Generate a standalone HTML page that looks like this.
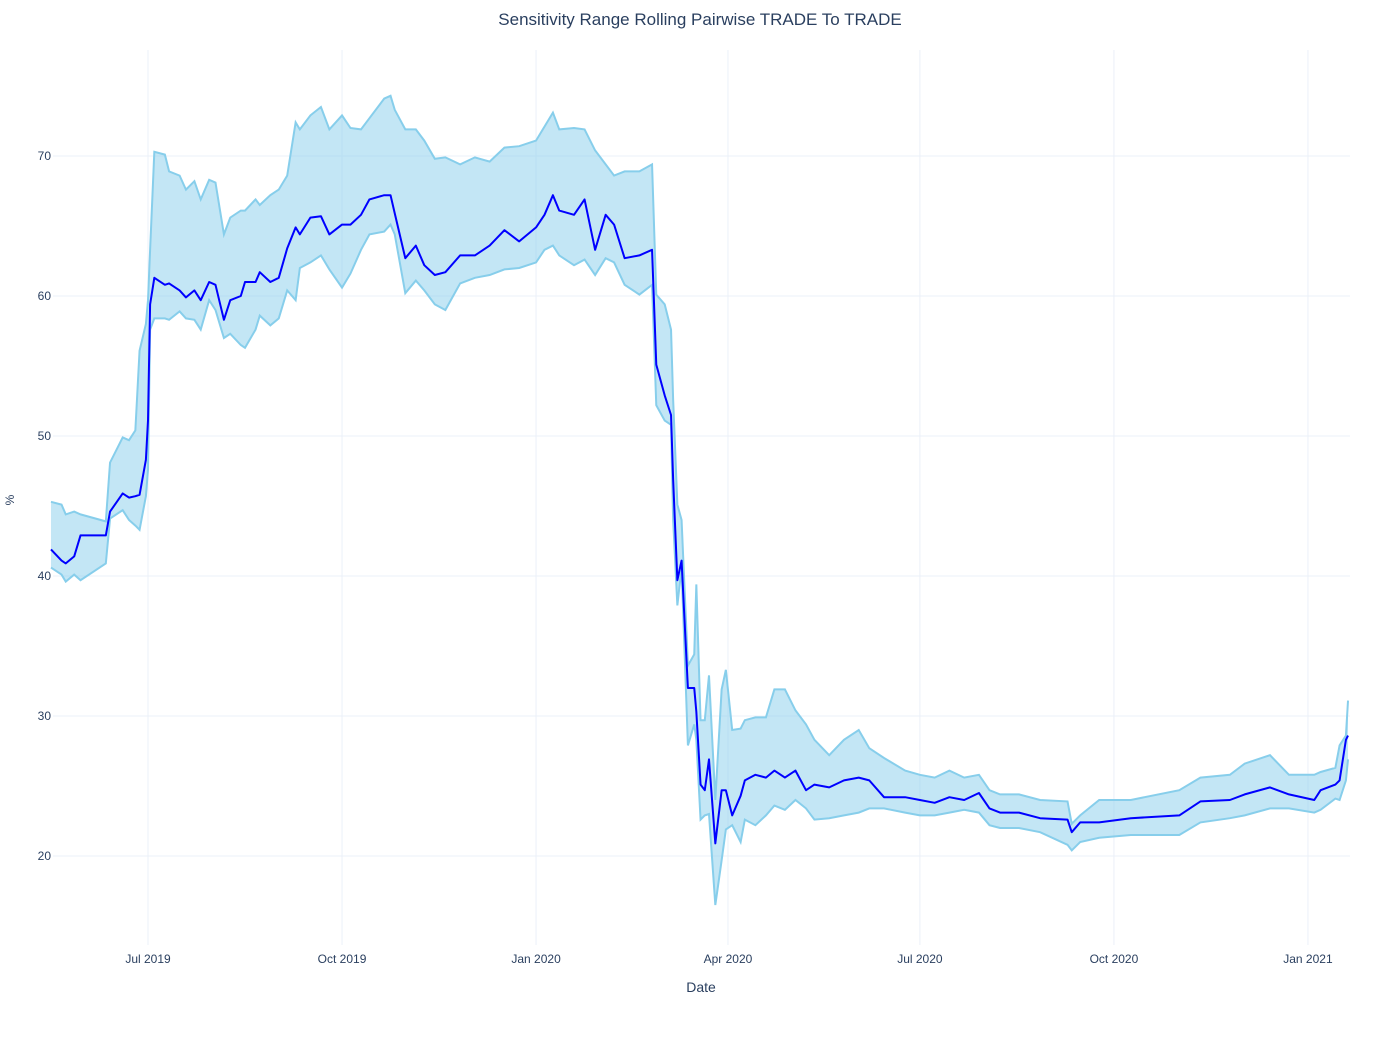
<!DOCTYPE html>
<html><head><meta charset="utf-8"><style>
body{margin:0;background:#fff;}
svg text{font-family:"Liberation Sans",sans-serif;fill:#2a3f5f;}
</style></head><body>
<svg id="chart" width="1400" height="1050"></svg>
<script>
const dayOffsets=[-46,-41,-39,-35,-32,-20,-18,-12,-9,-6,-4,-1,0,1,3,8,10,15,18,22,25,29,32,36,39,44,46,51,53,58,62,66,70,72,77,82,86,92,96,101,105,112,115,117,122,127,131,136,141,148,155,162,169,176,184,188,192,195,202,207,212,217,221,226,233,239,241,245,248,249,251,253,256,259,260,262,264,266,269,272,274,277,281,283,288,293,297,302,307,312,316,323,330,337,342,349,359,366,373,380,387,394,399,404,413,423,436,438,442,451,466,489,499,513,520,532,541,553,556,563,565,568,569];
const meanVals=[41.9,41.1,40.9,41.4,42.9,42.9,44.6,45.9,45.6,45.7,45.8,48.3,51.1,59.4,61.3,60.8,60.9,60.4,59.9,60.4,59.7,61,60.8,58.3,59.7,60,61,61,61.7,61,61.3,63.4,64.9,64.4,65.6,65.7,64.4,65.1,65.1,65.8,66.9,67.2,67.2,65.9,62.7,63.6,62.2,61.5,61.7,62.9,62.9,63.6,64.7,63.9,64.9,65.8,67.2,66.1,65.8,66.9,63.3,65.8,65.1,62.7,62.9,63.3,55.1,52.9,51.5,46.9,39.7,41.1,32,32,30.3,25.1,24.7,26.9,20.9,24.7,24.7,22.9,24.3,25.4,25.8,25.6,26.1,25.6,26.1,24.7,25.1,24.9,25.4,25.6,25.4,24.2,24.2,24,23.8,24.2,24,24.5,23.4,23.1,23.1,22.7,22.6,21.7,22.4,22.4,22.7,22.9,23.9,24,24.4,24.9,24.4,24,24.7,25.1,25.4,28.3,28.6];
const upperVals=[45.3,45.1,44.4,44.6,44.4,43.9,48.1,49.9,49.7,50.4,56.1,58,59.7,63.3,70.3,70.1,68.9,68.6,67.6,68.2,66.9,68.3,68.1,64.4,65.6,66.1,66.1,66.9,66.5,67.2,67.6,68.6,72.4,71.9,72.9,73.5,71.9,72.9,72,71.9,72.7,74.1,74.3,73.3,71.9,71.9,71.1,69.8,69.9,69.4,69.9,69.6,70.6,70.7,71.1,72.1,73.1,71.9,72,71.9,70.4,69.4,68.6,68.9,68.9,69.4,60.1,59.4,57.6,52.6,45.1,44,33.6,34.4,39.4,29.7,29.7,32.9,24,31.9,33.3,29,29.1,29.7,29.9,29.9,31.9,31.9,30.4,29.4,28.3,27.2,28.3,29,27.7,27,26.1,25.8,25.6,26.1,25.6,25.8,24.7,24.4,24.4,24,23.9,22.3,22.9,24,24,24.7,25.6,25.8,26.6,27.2,25.8,25.8,26,26.3,27.9,28.6,31.1];
const lowerVals=[40.6,40.1,39.6,40.1,39.7,40.9,44.1,44.7,44,43.6,43.3,45.7,47.6,57.6,58.4,58.4,58.3,58.9,58.4,58.3,57.6,59.7,59,57,57.3,56.5,56.3,57.6,58.6,57.9,58.4,60.4,59.7,62,62.4,62.9,61.9,60.6,61.6,63.3,64.4,64.6,65.1,64.4,60.2,61.1,60.4,59.4,59,60.9,61.3,61.5,61.9,62,62.4,63.3,63.6,62.9,62.2,62.6,61.5,62.7,62.4,60.8,60.1,60.8,52.2,51.1,50.8,44,37.9,40.6,27.9,29.4,28.3,22.6,22.9,23,16.5,19.7,21.9,22.2,21,22.6,22.2,22.9,23.6,23.3,24,23.4,22.6,22.7,22.9,23.1,23.4,23.4,23.1,22.9,22.9,23.1,23.3,23.1,22.2,22,22,21.7,20.8,20.4,21,21.3,21.5,21.5,22.4,22.7,22.9,23.4,23.4,23.1,23.3,24.1,24,25.4,26.9];
const yTicks=[20,30,40,50,60,70];
const xTickLabels=["Jul 2019","Oct 2019","Jan 2020","Apr 2020","Jul 2020","Oct 2020","Jan 2021"];
const xTickDays=[0,92,184,275,366,458,550];

const NS="http://www.w3.org/2000/svg";
const svg=document.getElementById('chart');
const PL=53,PR=1350,PT=50,PB=945;
const xs=d=>148+d*2.109;
const ys=v=>1136-v*14;
function mk(tag,attrs,parent){const e=document.createElementNS(NS,tag);for(const k in attrs)e.setAttribute(k,attrs[k]);(parent||svg).appendChild(e);return e;}

const grid=mk('g',{});


yTicks.forEach(v=>{
  const l=mk('line',{x1:PL,x2:PR,y1:ys(v),y2:ys(v),stroke:'#EBF0F8','stroke-width':1},grid);
  
  
  const t=mk('text',{x:PL-2,y:ys(v)+4,'text-anchor':'end','font-size':12});
  t.textContent=v;
  
  
});
xTickDays.forEach((d,i)=>{
  const l=mk('line',{x1:xs(d),x2:xs(d),y1:PT,y2:PB,stroke:'#EBF0F8','stroke-width':1},grid);
  
  
  const t=mk('text',{x:xs(d),y:963,'text-anchor':'middle','font-size':12});
  t.textContent=xTickLabels[i];
  
  
});

const n=Math.min(dayOffsets.length,meanVals.length,upperVals.length,lowerVals.length);
let up=[],lo=[],mn=[];
for(let i=0;i<n;i++){up.push(xs(dayOffsets[i])+','+ys(upperVals[i]));lo.push(xs(dayOffsets[i])+','+ys(lowerVals[i]));mn.push(xs(dayOffsets[i])+','+ys(meanVals[i]));}
const band=mk('polygon',{points:up.concat(lo.slice().reverse()).join(' '),fill:'rgba(135,206,235,0.5)',stroke:'none'});


const ul=mk('polyline',{points:up.join(' '),fill:'none',stroke:'#87CEEB','stroke-width':2});


const ll=mk('polyline',{points:lo.join(' '),fill:'none',stroke:'#87CEEB','stroke-width':2});


const ml=mk('polyline',{points:mn.join(' '),fill:'none',stroke:'#0000ff','stroke-width':2,'stroke-linejoin':'round'});



const title=mk('text',{x:700,y:25,'text-anchor':'middle','font-size':17});
title.textContent='Sensitivity Range Rolling Pairwise TRADE To TRADE';


const xt=mk('text',{x:701,y:992,'text-anchor':'middle','font-size':14});
xt.textContent='Date';


const yt=mk('text',{x:14,y:500,'text-anchor':'middle','font-size':12,transform:'rotate(-90 14 500)'});
yt.textContent='%';


</script>
</body></html>
